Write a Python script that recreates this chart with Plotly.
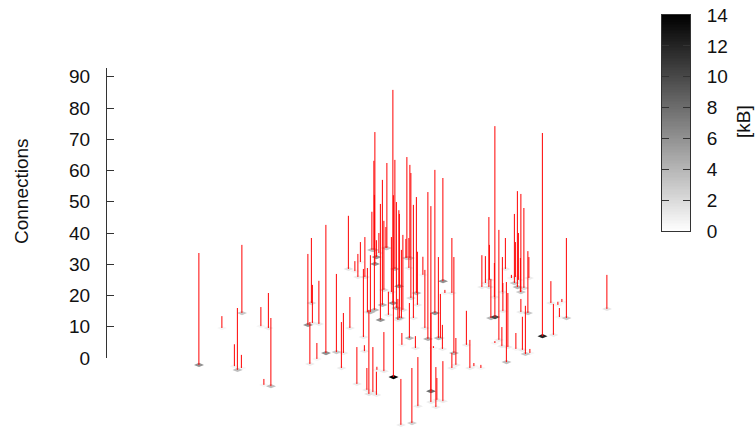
import numpy as np
import plotly.graph_objects as go

# Horizontal position, floor level of each impulse (on the
# Connections scale, since the floor recedes in perspective), connections, traffic in kB.
position = [
    92, 115, 135, 127.5, 130.5, 134.5, 154, 161.5, 164, 157, 201, 204.5, 205.5, 212, 219, 203, 210, 229.5, 236.5, 234.5, 241.5, 243,
    248, 251, 253.5, 258, 256.5, 260.5, 263.5, 265, 267, 268, 267.5, 269.5, 273.5, 272, 275.5, 277, 279, 280, 284.5, 286, 286.5, 288, 289.5, 292, 292.5, 296, 294.5, 299, 300, 302, 303, 304, 306.5, 309.5, 310.5, 316, 321, 324, 324, 328, 331.5, 336, 345, 347,
    250, 260, 262, 266, 269.5, 270, 257.5, 277, 281.5, 291, 295, 294, 302.5, 305, 308.5, 311, 318, 326.5, 329, 330, 333.5, 335.5, 336, 338, 345, 349, 359.5, 363, 367, 374,
    388, 435.5, 459.5, 500, 444, 446.5, 451, 455, 452.5, 423, 418.5, 415.5, 409, 399.5, 401, 392, 395, 388, 382, 382.5, 375, 378.5, 384, 387.5, 395.5, 396, 398.5, 404.5, 407.5, 408.5, 410.5, 411.5, 414, 413.5, 417, 421, 422, 414,
]
floor_level = [
    -2.2, 9.6, 14.4, -2.6, -3.8, -3.2, 10.2, 9.6, -9.0, -8.6, 10.6, 17.6, 11.2, 10.9, 1.6, -1.9, -0.3, 1.9, 1.6, -3.2, 28.5, 9.6,
    27.8, 25.9, 30.7, 25.9, 6.7, 14.7, 14.7, 34.6, 34.6, 30.1, 15.4, 32.3, 12.2, 33.6, 17.0, 21.8, 35.2, 35.2, 21.1, 17.6, -6.1, 28.5, 16.0, 23.0, 12.8, 15.4, 12.8, 32.0, 32.0, 28.8, 32.0, 19.2, 12.8, 20.8, 17.0, 26.6, 6.1, -10.6, -14.1, 14.4, 6.4, 24.6, 20.8, 1.6,
    -8.3, -10.2, -11.5, -10.9, -11.8, -3.8, 2.2, -4.2, 13.8, 12.2, 4.2, -21.4, 6.4, -20.8, 3.2, -15.4, 9.6, 3.2, -15.7, -13.4, 6.4, 2.9, -13.8, 20.8, -3.2, -2.2, 4.2, -3.2, -2.6, -3.2,
    13.1, 7.0, 12.8, 15.7, 17.6, 7.4, 17.0, 17.9, 13.1, 1.6, 1.3, 2.6, 2.9, -1.3, 3.5, 5.8, 3.8, 4.8, 22.7, 25.0, 22.7, 24.0, 12.8, 19.5, 21.1, 15.0, 28.5, 25.6, 24.0, 25.9, 22.7, 25.0, 21.1, 21.1, 22.4, 14.4, 25.6, 14.7,
]
connections = [
    35.8, 3.8, 21.8, 7.0, 19.8, 4.2, 6.1, 11.2, 21.8, 1.9, 22.7, 20.8, 12.2, 13.8, 41.0, 13.4, 5.1, 25.0, 12.8, 14.7, 17.0, 9.9,
    3.2, 7.4, 6.4, 12.8, 21.8, 14.1, 18.2, 12.2, 28.5, 42.2, 36.8, 5.4, 37.1, 6.4, 40.0, 22.1, 6.7, 27.2, 17.6, 68.2, 58.2, 34.9, 33.9, 24.3, 33.3, 24.0, 21.8, 6.1, 32.3, 9.6, 29.8, 40.0, 36.2, 30.7, 17.0, 5.8, 47.0, 59.2, 28.5, 45.8, 25.9, 33.0, 17.6, 30.7,
    11.8, 7.0, 26.9, 14.4, 7.4, 1.0, 1.9, 12.5, 7.4, 6.7, 3.8, 14.7, 11.2, 17.6, 3.8, 15.7, 18.6, 0.6, 12.8, 7.0, 14.1, 7.7, 12.8, 1.0, 4.8, 8.6, 10.9, 9.0, 1.0, 1.0,
    61.1, 65.0, 25.6, 10.9, 7.0, 9.9, 1.0, 1.0, 2.9, 1.3, 15.4, 10.6, 5.1, 25.6, 17.3, 35.2, 6.1, 0.6, 22.4, 11.2, 10.2, 8.6, 12.5, 10.9, 11.2, 9.0, 9.9, 1.0, 22.1, 11.2, 30.7, 15.0, 31.4, 10.9, 25.6, 19.8, 6.7, 4.2,
]
traffic_kb = [
    6, 0.5, 3, 0.5, 3.5, 0.5, 0.5, 1, 3.5, 0.5, 6, 2, 1, 1, 6, 1, 0.5, 3, 1, 1, 1.5, 1,
    0.5, 1, 0.5, 1.5, 1, 1, 4, 3.5, 3.5, 6, 4, 6, 6, 1, 4, 2, 3, 3, 1, 6, 14, 4, 4, 6, 4, 1.5, 1, 1, 3, 1, 3, 2, 1, 4, 1, 0.5, 4.5, 8, 1, 6, 4, 6, 1, 4,
    1, 1, 1.5, 1, 1, 0.5, 1, 1, 1, 1, 0.5, 1, 4, 2.5, 1, 1, 1, 0.5, 1, 1, 1, 1, 1, 0.5, 1, 1, 1, 1, 0.5, 0.5,
    10, 12, 3, 1.5, 1, 1, 0.5, 0.5, 0.5, 0.5, 3, 1, 0.5, 3.5, 1, 1, 1, 0.5, 1.5, 1, 1, 1, 4, 1, 1, 1, 1, 0.5, 3, 1, 4, 1, 3, 1, 2, 3, 1, 1,
]
y_ticks = [0, 10, 20, 30, 40, 50, 60, 70, 80, 90]
kb_ticks = [0, 2, 4, 6, 8, 10, 12, 14]
kb_ramp = list(np.linspace(0, 14, 141))

FONT = "Liberation Sans"
TXT = "#111111"
W, H = 756, 427
LEFT = 107
PW = W - LEFT
GREY = [[0, "#ffffff"], [1, "#000000"]]
AXC = "#333333"
CELL_X, CELL_Y = 5.0, 0.68
NUDGE = 0.12


def fy(page_y):
    return (H - page_y) / H


def fx(page_x):
    return (page_x - LEFT) / PW


fig = go.Figure()

# floor cells, one trace per grey level
for kb in sorted(set(traffic_kb)):
    xs, ys = [], []
    for p, f, k in zip(position, floor_level, traffic_kb):
        if k == kb:
            xs += [p - CELL_X, p, p + CELL_X, p, p - CELL_X, None]
            ys += [f, f + CELL_Y, f, f - CELL_Y, f, None]
    g = int(round(255 * (1 - kb / 14)))
    fig.add_trace(go.Scatter(x=xs, y=ys, mode="lines", fill="toself", line=dict(width=0),
                             fillcolor=f"rgb({g},{g},{g})", hoverinfo="skip", showlegend=False))

# impulses
ix, iy = [], []
for p, f, c in zip(position, floor_level, connections):
    ix += [p - NUDGE, p - NUDGE, None]
    iy += [f, f + c, None]
fig.add_trace(go.Scatter(x=ix, y=iy, mode="lines", line=dict(color="#ff0000", width=1),
                         hoverinfo="skip", showlegend=False))

# carrier for the visible Connections axis
fig.add_trace(go.Scatter(x=[0], y=[0], xaxis="x", yaxis="y2", mode="markers",
                         marker=dict(opacity=0), hoverinfo="skip", showlegend=False))

# gradient key
fig.add_trace(go.Heatmap(z=[[v] for v in kb_ramp], y=kb_ramp, x=[0], xaxis="x3", yaxis="y3",
                         zmin=0, zmax=14, colorscale=GREY, showscale=False, hoverinfo="skip"))

tickfont = dict(family=FONT, size=19, color=TXT)
fig.update_layout(
    template="none",
    width=W, height=H, autosize=False,
    margin=dict(l=LEFT, r=0, t=0, b=0, pad=0),
    paper_bgcolor="white", plot_bgcolor="rgba(0,0,0,0)", showlegend=False,
    xaxis=dict(domain=[0, 1], range=[0, PW], visible=False, fixedrange=True, automargin=False),
    yaxis=dict(domain=[0, 1], range=[-22.08, 114.56], visible=False, fixedrange=True, automargin=False),
    yaxis2=dict(domain=[fy(358), fy(68)], range=[0, 92.8], anchor="x", side="left",
                tickvals=y_ticks, ticks="inside", ticklen=7, tickcolor=AXC, tickwidth=1,
                showline=True, linecolor=AXC, linewidth=1, showgrid=False, zeroline=False,
                tickfont=tickfont, ticklabelstandoff=12, fixedrange=True, automargin=False),
    xaxis3=dict(domain=[fx(662), fx(690)], range=[-0.5, 0.5],
                anchor="y3", showline=True, linecolor=AXC, linewidth=1, mirror=True,
                ticks="", showticklabels=False, showgrid=False, zeroline=False, fixedrange=True,
                automargin=False),
    yaxis3=dict(domain=[fy(231), fy(15)], range=[0, 14], anchor="x3", side="right",
                tickvals=kb_ticks, ticks="inside", ticklen=7, tickcolor=AXC, tickwidth=1,
                showline=True, linecolor=AXC, linewidth=1, mirror="ticks", showgrid=False,
                zeroline=False, tickfont=tickfont, ticklabelstandoff=12, fixedrange=True,
                automargin=False, ticklabeloverflow="allow"),
    annotations=[
        dict(text="Connections", xref="paper", yref="paper", x=fx(21), y=fy(191),
             showarrow=False, textangle=-90, xanchor="center", yanchor="middle",
             font=dict(family=FONT, size=19, color=TXT)),
        dict(text="[kB]", xref="paper", yref="paper", x=fx(743), y=fy(122),
             showarrow=False, textangle=-90, xanchor="center", yanchor="middle",
             font=dict(family=FONT, size=19, color=TXT)),
    ],
)
fig.write_html("out.html", config={"displayModeBar": False},
               post_script="document.body.style.margin='0';document.documentElement.style.overflow='hidden';")
